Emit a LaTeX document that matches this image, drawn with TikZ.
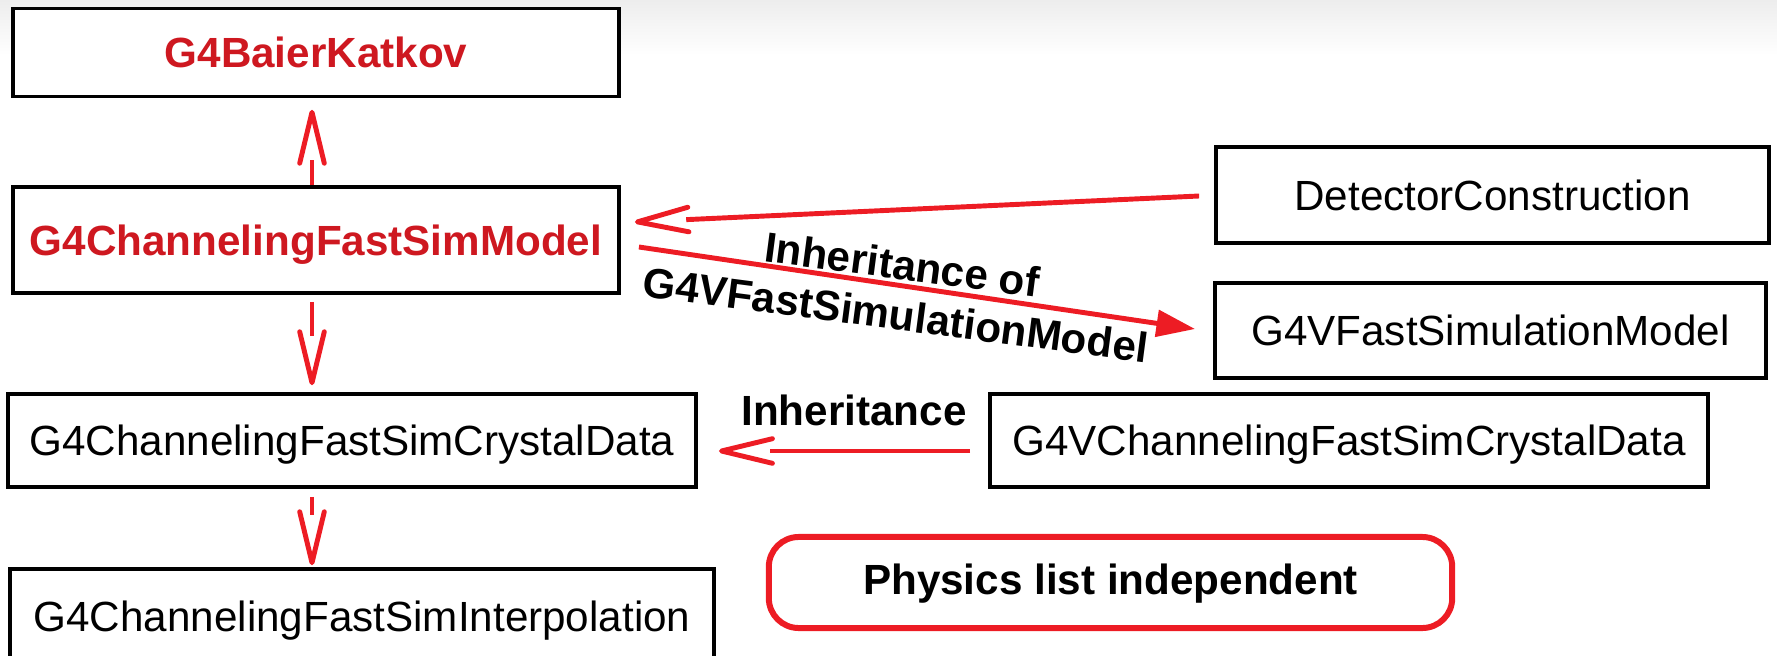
\documentclass[tikz,border=0pt]{standalone}
\usepackage{fontspec}
\setmainfont{Liberation Sans}
\usepackage{tikz}
\usetikzlibrary{arrows.meta, calc}
\definecolor{linered}{RGB}{237,28,36}
\definecolor{textred}{RGB}{206,24,32}
\tikzstyle{classbox} = [rectangle, draw=black, line width=1pt, fill=white, inner sep=0pt, text height=8.6pt, text depth=0pt, text centered]
\tikzstyle{mainclass} = [classbox, text=textred, font=\bfseries]
\tikzstyle{note} = [rectangle, rounded corners=8.5pt, draw=linered, line width=1.7pt, fill=white, inner sep=0pt, text height=8.6pt, text depth=2pt, font=\bfseries, text centered]
\tikzstyle{arrowtext} = [inner sep=0pt, font=\bfseries, align=center]
\tikzstyle{uses} = [draw=linered, line width=1.4pt, -{Straight Barb[length=14.5pt, width=7pt, round]}]
\tikzstyle{inherit} = [draw=linered, line width=1.4pt, -{Triangle[length=11pt, width=7.5pt]}]

\begin{document}
\fontsize{12}{14.4}\selectfont
\begin{tikzpicture}[x=0.01cm, y=-0.01cm]
    \useasboundingbox (0,0) rectangle (1777,655);
    \clip (0,0) rectangle (1777,655);
    \shade [top color=black!7, bottom color=white] (0,0) rectangle (1777,55);
    % classes
    \node (Baier) [mainclass, minimum width=6.06cm, minimum height=0.88cm] at (316,52.5) {G4BaierKatkov};
    \node (Model) [mainclass, minimum width=6.06cm, minimum height=1.06cm] at (316,240) {G4ChannelingFastSimModel};
    \node (CrystalData) [classbox, minimum width=6.88cm, minimum height=0.93cm] at (352,440.5) {G4ChannelingFastSimCrystalData};
    \node (Interpolation) [classbox, minimum width=7.04cm, minimum height=0.94cm] at (362,616) {G4ChannelingFastSimInterpolation};
    \node (Detector) [classbox, minimum width=5.53cm, minimum height=0.96cm] at (1492.5,195) {DetectorConstruction};
    \node (FastSimModel) [classbox, minimum width=5.51cm, minimum height=0.95cm] at (1490.5,330.5) {G4VFastSimulationModel};
    \node (VCrystalData) [classbox, minimum width=7.18cm, minimum height=0.93cm] at (1349,440.5) {G4VChannelingFastSimCrystalData};
    \node (PhysList) [note, minimum width=6.83cm, minimum height=0.91cm] at (1110.5,582.5) {Physics list independent};
    % labels
    \node (InhOf) [arrowtext, rotate=-7.5] at (899,289.5) {Inheritance of\\G4VFastSimulationModel};
    \node (Inh) [arrowtext] at (854,410) {Inheritance};
    % connectors
    \draw [uses, dash pattern=on 7.1pt off 60pt] ($(Model.north)+(-4,0)$) -- ($(Baier.south)+(-4,11.5)$);
    \draw [uses, dash pattern=on 9.7pt off 60pt] ($(Model.south)+(-4,7)$) -- ($(CrystalData.north -| Model.south)+(-4,-7)$);
    \draw [uses, dash pattern=on 5.1pt off 60pt] ($(CrystalData.south -| Model.south)+(-4,8)$) -- ($(Interpolation.north -| Model.south)+(-4,-2)$);
    \draw [uses, dash pattern=on 146pt off 100pt] ($(Detector.west)+(-15,1)$) -- ($(Model.east)+(14,-18)$);
    \draw [inherit] ($(Model.east)+(18,7)$) -- ($(FastSimModel.west)+(-18,-1.5)$);
    \draw [uses, dash pattern=on 57pt off 100pt] ($(VCrystalData.west)+(-18,10.5)$) -- ($(CrystalData.east)+(21,10.5)$);
\end{tikzpicture}
\end{document}
